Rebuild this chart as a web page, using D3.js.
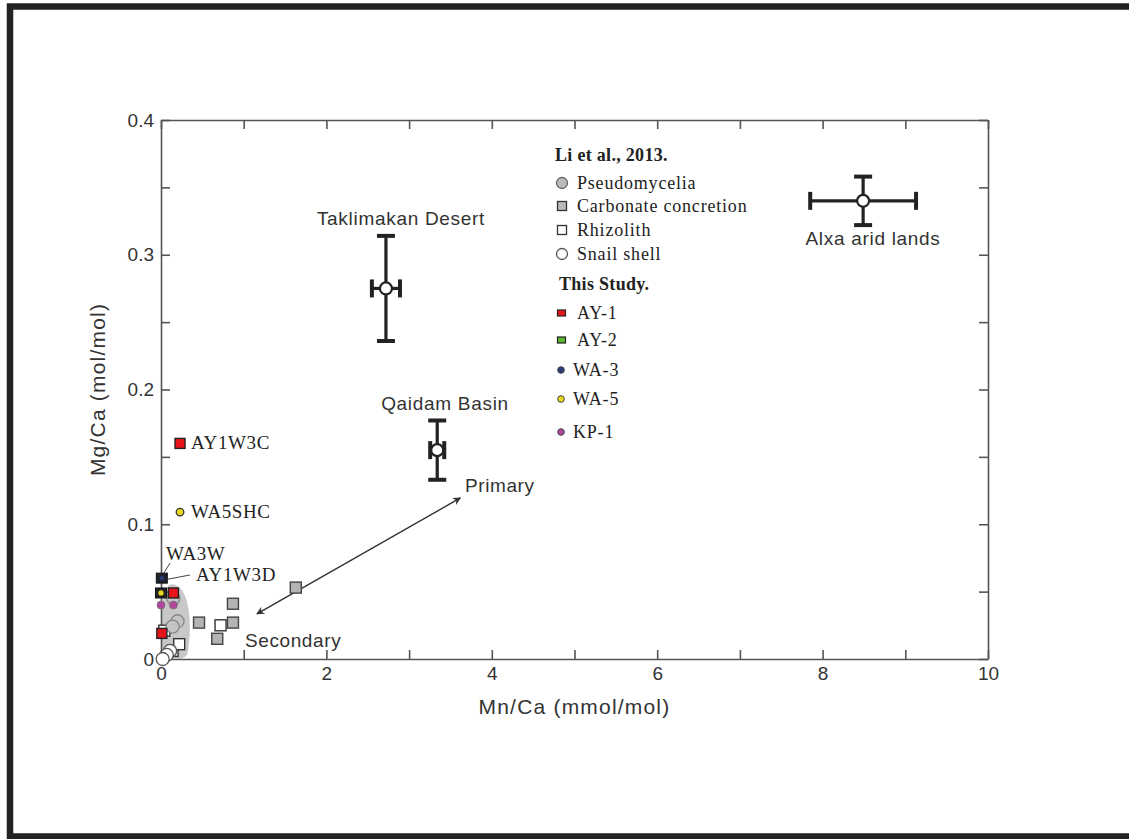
<!DOCTYPE html>
<html><head><meta charset="utf-8">
<script src="https://cdn.jsdelivr.net/npm/d3@7"></script>
<style>
html,body{margin:0;padding:0;background:#fff;}
svg{display:block;}
.sans{font-family:"Liberation Sans",Arial,sans-serif;fill:#333;}
.serif{font-family:"Liberation Serif","Times New Roman",serif;fill:#222;}
</style></head>
<body>
<script>
// ---- data ----
const xTicks = [0,1,2,3,4,5,6,7,8,9,10];
const yTicks = [0,0.05,0.1,0.15,0.2,0.25,0.3,0.35,0.4];
const regionNames = ["Taklimakan Desert","Qaidam Basin","Alxa arid lands"];
const regionX = [2.72, 3.34, 8.49];
const regionY = [0.275, 0.155, 0.340];
const regionXErr = [0.17, 0.085, 0.64];
const regionYErr = [0.039, 0.022, 0.018];

const pseudoX = [0.15, 0.20, 0.14];
const pseudoY = [0.045, 0.028, 0.024];
const concretionX = [1.63, 0.87, 0.46, 0.87, 0.68];
const concretionY = [0.053, 0.041, 0.027, 0.027, 0.015];
const rhizolithX = [0.72, 0.14, 0.22, 0.04];
const rhizolithY = [0.025, 0.006, 0.011, 0.021];
const snailX = [0.11, 0.07, 0.02];
const snailY = [0.006, 0.003, 0.000];

const ay1X = [0.23, 0.15, 0.01];
const ay1Y = [0.160, 0.049, 0.019];
const ay1Labels = ["AY1W3C", "AY1W3D", ""];
const wa3X = [0.01];
const wa3Y = [0.060];
const wa5X = [0.0, 0.23];
const wa5Y = [0.049, 0.109];
const kp1X = [0.0, 0.15];
const kp1Y = [0.040, 0.040];

const shadeX = [0, 0, 0.05, 0.2, 0.32, 0.36, 0.33, 0.3];
const shadeY = [0, 0.035, 0.056, 0.056, 0.046, 0.025, 0.005, 0];

const arrowFrom = [1.16, 0.0335];
const arrowTo = [3.62, 0.1195];

const legendLi = ["Pseudomycelia","Carbonate concretion","Rhizolith","Snail shell"];
const legendThis = ["AY-1","AY-2","WA-3","WA-5","KP-1"];
const colAY1 = "#e8141c", colAY2 = "#5cb82e", colWA3 = "#2b3a7a", colWA5 = "#e5d820", colKP1 = "#b0479a";

// ---- drawing ----
const W = 1129, H = 839;
const svg = d3.select("body").append("svg").attr("width", W).attr("height", H);

// frame
svg.append("rect").attr("x", 10).attr("y", 6.5).attr("width", 1140).attr("height", 830)
  .attr("fill", "none").attr("stroke", "#222").attr("stroke-width", 6.5);

const x = d3.scaleLinear().domain([0, 10]).range([161, 988]);
const y = d3.scaleLinear().domain([0, 0.4]).range([659, 120]);

// shaded region
svg.append("path")
  .datum(shadeX.map((v, i) => [v, shadeY[i]]))
  .attr("d", d3.line().x(d => x(d[0])).y(d => y(d[1])).curve(d3.curveBasisClosed))
  .attr("fill", "#c8c8c8").attr("stroke", "none");
svg.append("rect").attr("x", x(0)).attr("y", y(0.035)).attr("width", x(0.15) - x(0)).attr("height", y(0) - y(0.035)).attr("fill", "#c8c8c8");

// axes
const axG = svg.append("g");
function styleAxis(g) {
  g.select(".domain").attr("stroke", "#555").attr("stroke-width", 1.6);
  g.selectAll(".tick line").attr("stroke", "#555").attr("stroke-width", 1.6);
  g.selectAll("text").attr("class", "sans").style("font-size", "19px").attr("fill", "#333");
}
axG.append("g").attr("transform", `translate(0,${y(0)})`)
  .call(d3.axisBottom(x).tickValues(xTicks).tickSizeInner(-9).tickSizeOuter(0).tickPadding(8)
    .tickFormat(d => d % 2 === 0 ? d3.format("d")(d) : ""))
  .call(styleAxis);
axG.append("g").attr("transform", `translate(0,${y(0.4)})`)
  .call(d3.axisTop(x).tickValues(xTicks).tickSizeInner(-9).tickSizeOuter(0).tickFormat(""))
  .call(styleAxis);
axG.append("g").attr("transform", `translate(${x(0)},0)`)
  .call(d3.axisLeft(y).tickValues(yTicks).tickSizeInner(-9).tickSizeOuter(0).tickPadding(7)
    .tickFormat(d => (Math.round(d * 100) % 10 === 0) ? (d === 0 ? "0" : d3.format(".1f")(d)) : ""))
  .call(styleAxis);
axG.append("g").attr("transform", `translate(${x(10)},0)`)
  .call(d3.axisRight(y).tickValues(yTicks).tickSizeInner(-9).tickSizeOuter(0).tickFormat(""))
  .call(styleAxis);

// axis titles
svg.append("text").attr("class", "sans").attr("x", (x(0) + x(10)) / 2 - 0).attr("y", 714)
  .attr("text-anchor", "middle").style("font-size", "21px").style("letter-spacing", "1.2px")
  .text("Mn/Ca (mmol/mol)");
svg.append("text").attr("class", "sans").attr("transform", `translate(105,${(y(0) + y(0.4)) / 2}) rotate(-90)`)
  .attr("text-anchor", "middle").style("font-size", "21px").style("letter-spacing", "1.2px")
  .text("Mg/Ca (mol/mol)");

// arrow
const defs = svg.append("defs");
defs.append("marker").attr("id", "ah").attr("viewBox", "0 0 10 10").attr("refX", 9).attr("refY", 5)
  .attr("markerWidth", 10).attr("markerHeight", 8).attr("markerUnits", "userSpaceOnUse").attr("orient", "auto-start-reverse")
  .append("path").attr("d", "M0,0 L10,5 L0,10 L3,5 Z").attr("fill", "#333");
svg.append("line")
  .attr("x1", x(arrowFrom[0])).attr("y1", y(arrowFrom[1]))
  .attr("x2", x(arrowTo[0])).attr("y2", y(arrowTo[1]))
  .attr("stroke", "#333").attr("stroke-width", 1.4)
  .attr("marker-start", "url(#ah)").attr("marker-end", "url(#ah)");
svg.append("text").attr("class", "sans").attr("x", 465).attr("y", 492).style("font-size", "19px").style("letter-spacing", "0.6px").text("Primary");
svg.append("text").attr("class", "sans").attr("x", 245).attr("y", 647).style("font-size", "19px").style("letter-spacing", "0.6px").text("Secondary");

// Li et al. points
const pts = svg.append("g");
pts.selectAll(".rh").data(rhizolithX).join("rect")
  .attr("x", (d, i) => x(d) - 5.5).attr("y", (d, i) => y(rhizolithY[i]) - 5.5)
  .attr("width", 11).attr("height", 11).attr("fill", "#fff").attr("stroke", "#333").attr("stroke-width", 1.4);
pts.selectAll(".cc").data(concretionX).join("rect")
  .attr("x", d => x(d) - 5.5).attr("y", (d, i) => y(concretionY[i]) - 5.5)
  .attr("width", 11).attr("height", 11).attr("fill", "#b4b4b4").attr("stroke", "#444").attr("stroke-width", 1.4);
pts.selectAll(".ps").data(pseudoX).join("circle")
  .attr("cx", d => x(d)).attr("cy", (d, i) => y(pseudoY[i])).attr("r", 6.5)
  .attr("fill", "#c4c4c4").attr("stroke", "#888").attr("stroke-width", 1.3);
pts.selectAll(".sn").data(snailX).join("circle")
  .attr("cx", d => x(d)).attr("cy", (d, i) => y(snailY[i])).attr("r", 6.5)
  .attr("fill", "#fff").attr("stroke", "#555").attr("stroke-width", 1.3);

// This study points
pts.selectAll(".kp").data(kp1X).join("circle")
  .attr("cx", d => x(d)).attr("cy", (d, i) => y(kp1Y[i])).attr("r", 4)
  .attr("fill", colKP1).attr("stroke", "#777").attr("stroke-width", 0.8);
pts.selectAll(".wa5").data(wa5X).join("g").each(function (d, i) {
  const g = d3.select(this);
  if (i === 0) {
    g.append("rect").attr("x", x(d) - 5.5).attr("y", y(wa5Y[i]) - 5).attr("width", 11).attr("height", 10)
      .attr("fill", "#222").attr("stroke", "#111");
    g.append("circle").attr("cx", x(d)).attr("cy", y(wa5Y[i])).attr("r", 2.6).attr("fill", colWA5);
  } else {
    g.append("circle").attr("cx", x(d)).attr("cy", y(wa5Y[i])).attr("r", 3.8)
      .attr("fill", colWA5).attr("stroke", "#333").attr("stroke-width", 1.3);
  }
});
pts.selectAll(".wa3").data(wa3X).join("g").each(function (d, i) {
  const g = d3.select(this);
  g.append("rect").attr("x", x(d) - 5.5).attr("y", y(wa3Y[i]) - 5).attr("width", 11).attr("height", 10)
    .attr("fill", "#1e2230").attr("stroke", "#111");
  g.append("circle").attr("cx", x(d)).attr("cy", y(wa3Y[i])).attr("r", 2.2).attr("fill", colWA3);
});
pts.selectAll(".ay1").data(ay1X).join("rect")
  .attr("x", d => x(d) - 5).attr("y", (d, i) => y(ay1Y[i]) - 5)
  .attr("width", 10).attr("height", 10).attr("fill", colAY1).attr("stroke", "#222").attr("stroke-width", 1.4);

// sample labels
const lab = svg.append("g").attr("class", "serif").style("font-size", "19px").style("letter-spacing", "0.6px");
lab.append("text").attr("x", x(ay1X[0]) + 11).attr("y", y(ay1Y[0]) + 6).text(ay1Labels[0]);
lab.append("text").attr("x", x(wa5X[1]) + 11).attr("y", y(wa5Y[1]) + 6).text("WA5SHC");
lab.append("text").attr("x", 166).attr("y", 560).text("WA3W");
lab.append("text").attr("x", 196).attr("y", 581).text(ay1Labels[1]);
svg.append("line").attr("x1", 170).attr("y1", 563).attr("x2", x(wa3X[0]) + 2).attr("y2", y(wa3Y[0]) - 5)
  .attr("stroke", "#444").attr("stroke-width", 1);
svg.append("line").attr("x1", x(wa3X[0]) + 6).attr("y1", y(wa3Y[0]) + 1).attr("x2", 190).attr("y2", 575)
  .attr("stroke", "#444").attr("stroke-width", 1);

// regional means with error bars
const eb = svg.append("g");
regionX.forEach((rx, i) => {
  const g = eb.append("g").attr("stroke", "#222").attr("stroke-width", 3.2);
  const cx = x(rx), cy = y(regionY[i]);
  const x1 = x(rx - regionXErr[i]), x2 = x(rx + regionXErr[i]);
  const y1 = y(regionY[i] + regionYErr[i]), y2 = y(regionY[i] - regionYErr[i]);
  g.append("line").attr("x1", cx).attr("x2", cx).attr("y1", y1).attr("y2", y2);
  g.append("line").attr("x1", x1).attr("x2", x2).attr("y1", cy).attr("y2", cy);
  g.append("line").attr("x1", cx - 9).attr("x2", cx + 9).attr("y1", y1).attr("y2", y1).attr("stroke-width", 4);
  g.append("line").attr("x1", cx - 9).attr("x2", cx + 9).attr("y1", y2).attr("y2", y2).attr("stroke-width", 4);
  g.append("line").attr("x1", x1).attr("x2", x1).attr("y1", cy - 9).attr("y2", cy + 9).attr("stroke-width", 4);
  g.append("line").attr("x1", x2).attr("x2", x2).attr("y1", cy - 9).attr("y2", cy + 9).attr("stroke-width", 4);
  g.append("circle").attr("cx", cx).attr("cy", cy).attr("r", 6).attr("fill", "#fff").attr("stroke-width", 2.2);
});
const rl = svg.append("g").attr("class", "sans").style("font-size", "19px").style("letter-spacing", "0.7px").attr("text-anchor", "middle");
rl.append("text").attr("x", 401).attr("y", 225).text(regionNames[0]);
rl.append("text").attr("x", 445).attr("y", 410).text(regionNames[1]);
rl.append("text").attr("x", 873).attr("y", 245).text(regionNames[2]);

// legend
const lg = svg.append("g").attr("class", "serif").style("font-size", "18px").style("letter-spacing", "0.8px");
lg.append("text").attr("x", 555).attr("y", 161).style("font-weight", "bold").style("letter-spacing", "0.3px").text("Li et al., 2013.");
const liRows = [183, 206, 230, 254];
legendLi.forEach((t, i) => {
  const cy = liRows[i];
  if (i === 0) lg.append("circle").attr("cx", 562).attr("cy", cy).attr("r", 5.5).attr("fill", "#bbb").attr("stroke", "#666").attr("stroke-width", 1.3);
  if (i === 1) lg.append("rect").attr("x", 557.5).attr("y", cy - 4.5).attr("width", 9).attr("height", 9).attr("fill", "#bbb").attr("stroke", "#333").attr("stroke-width", 1.3);
  if (i === 2) lg.append("rect").attr("x", 557.5).attr("y", cy - 4.5).attr("width", 9).attr("height", 9).attr("fill", "#fff").attr("stroke", "#333").attr("stroke-width", 1.3);
  if (i === 3) lg.append("circle").attr("cx", 562).attr("cy", cy).attr("r", 5.5).attr("fill", "#fff").attr("stroke", "#555").attr("stroke-width", 1.3);
  lg.append("text").attr("x", 577).attr("y", cy + 6).text(t);
});
lg.append("text").attr("x", 559).attr("y", 290).style("font-weight", "bold").style("letter-spacing", "0.3px").text("This Study.");
const thisRows = [313, 340, 370, 399, 432];
const thisCols = [colAY1, colAY2, colWA3, colWA5, colKP1];
legendThis.forEach((t, i) => {
  const cy = thisRows[i];
  if (i < 2) {
    lg.append("rect").attr("x", 557.5).attr("y", cy - 3).attr("width", 8).attr("height", 6)
      .attr("fill", thisCols[i]).attr("stroke", "#222").attr("stroke-width", 1.2);
    lg.append("text").attr("x", 577).attr("y", cy + 6).text(t);
  } else {
    lg.append("circle").attr("cx", 561).attr("cy", cy).attr("r", 3.3)
      .attr("fill", thisCols[i]).attr("stroke", "#444").attr("stroke-width", 1);
    lg.append("text").attr("x", 573).attr("y", cy + 6).text(t);
  }
});
</script>
</body></html>
